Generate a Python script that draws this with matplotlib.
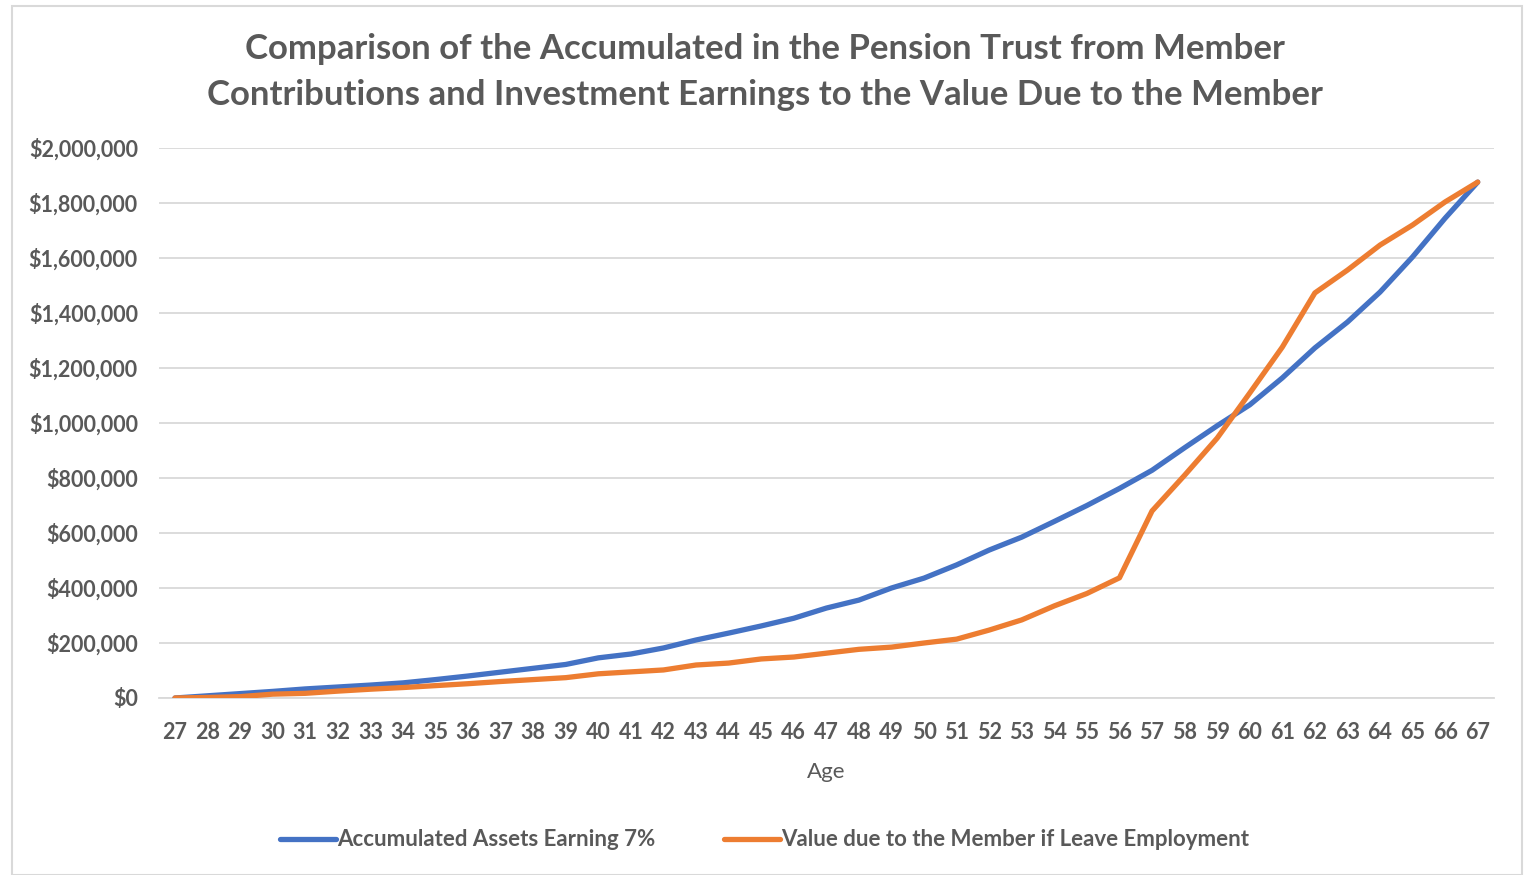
import matplotlib
matplotlib.use("Agg")
import matplotlib.pyplot as plt
from matplotlib.patches import Rectangle
from matplotlib.ticker import FuncFormatter, MultipleLocator

ages = list(range(27, 68))

accumulated = [0, 8000, 16000, 24000, 33000, 40000, 47000, 55000, 67000, 80000,
               94000, 108000, 122000, 146000, 160000, 182000, 211000, 236000, 262000, 290000,
               327000, 356000, 400000, 436000, 484000, 538000, 585000, 642000, 700000, 762000,
               828000, 910000, 990000, 1066000, 1164000, 1273000, 1367000, 1476000, 1604000, 1745000,
               1876000]

value_due = [0, 2000, 5000, 14000, 17000, 25000, 32000, 38000, 45000, 52000,
             60000, 67000, 74000, 88000, 95000, 102000, 120000, 127000, 142000, 149000,
             163000, 177000, 185000, 200000, 214000, 247000, 284000, 335000, 380000, 437000,
             680000, 810000, 945000, 1109000, 1276000, 1473000, 1556000, 1647000, 1720000, 1804000,
             1876000]

blue = "#4472C4"
orange = "#ED7D31"
text_grey = "#595959"
grid_grey = "#D9D9D9"

plt.rcParams['font.family'] = ['Lato', 'DejaVu Sans']

fig = plt.figure(figsize=(15.29, 8.75), dpi=100)
ax = fig.add_axes([158.7 / 1529, 1 - 698 / 875, (1494 - 158.7) / 1529, 550 / 875])

ax.plot(ages, accumulated, color=blue, lw=3.8, label="Accumulated Assets Earning 7%",
        solid_capstyle="round", solid_joinstyle="round", zorder=3)
ax.plot(ages, value_due, color=orange, lw=3.8, label="Value due to the Member if Leave Employment",
        solid_capstyle="round", solid_joinstyle="round", zorder=3)

ax.set_xlim(26.5, 67.5)
ax.set_ylim(0, 2000000)
ax.set_xticks(ages)
ax.yaxis.set_major_locator(MultipleLocator(200000))
ax.yaxis.set_major_formatter(FuncFormatter(lambda v, p: "${:,.0f}".format(v)))
ax.grid(axis="y", color=grid_grey, lw=1.3)
ax.set_axisbelow(True)
for s in ["top", "right", "left"]:
    ax.spines[s].set_visible(False)
ax.spines["bottom"].set_color(grid_grey)
ax.spines["bottom"].set_linewidth(1.3)
ax.tick_params(length=0, colors=text_grey, labelsize=15.5)
ax.tick_params(axis="x", pad=17)
ax.tick_params(axis="y", pad=15)
for lab in ax.get_xticklabels() + ax.get_yticklabels():
    lab.set_fontweight("bold")

ax.set_xlabel("Age", fontsize=16, color=text_grey, labelpad=14)

# two-line title, centred over the whole figure
fig.text(0.5, 1 - 72 / 875,
         "Comparison of the Accumulated in the Pension Trust from Member\n"
         "Contributions and Investment Earnings to the Value Due to the Member",
         ha="center", va="center", fontsize=25, fontweight="bold", color=text_grey,
         linespacing=1.55)

leg = fig.legend(loc="center", bbox_to_anchor=(0.5, 1 - 840 / 875), ncol=2, frameon=False,
                 fontsize=16, handlelength=2.5, handletextpad=0.05, columnspacing=3.1)
for t in leg.get_texts():
    t.set_color(text_grey)
    t.set_fontweight("bold")

# light chart border like the spreadsheet frame
fig.patches.append(Rectangle((12 / 1529, 0), 1510 / 1529, 1 - 6 / 875, transform=fig.transFigure,
                             fill=False, edgecolor=grid_grey, lw=1.5))

fig.savefig("out.png", dpi=100)
